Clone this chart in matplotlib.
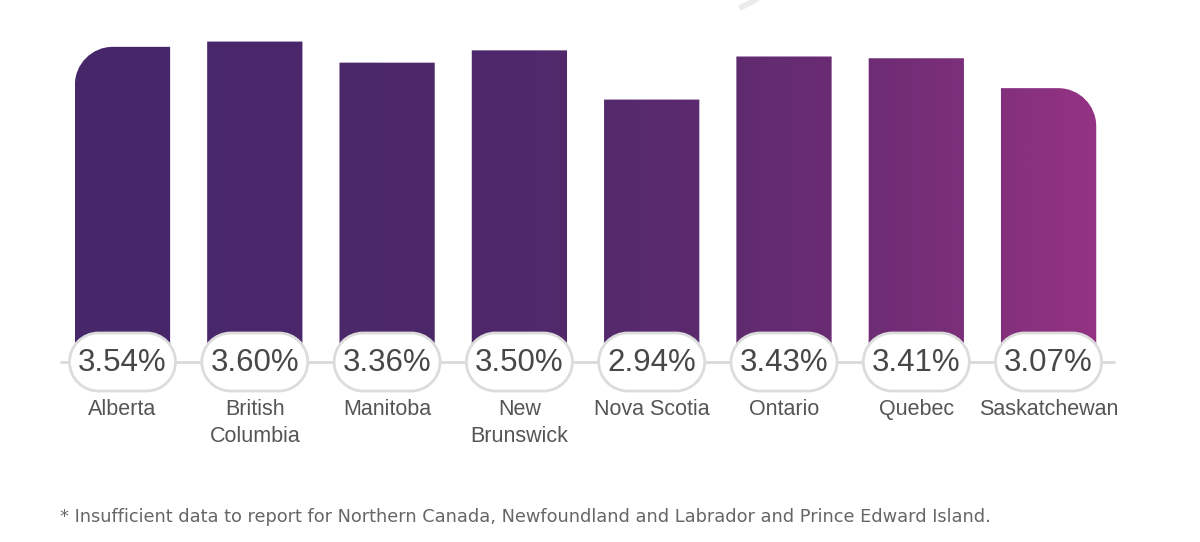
import numpy as np
import matplotlib
matplotlib.use("Agg")
from matplotlib import pyplot as plt
from matplotlib.path import Path
from matplotlib.patches import PathPatch
from matplotlib.colors import LinearSegmentedColormap
from matplotlib.lines import Line2D

# Datos del grafico
provincias = ["Alberta", "British\nColumbia", "Manitoba", "New\nBrunswick",
              "Nova Scotia", "Ontario", "Quebec", "Saskatchewan"]
valores = [3.54, 3.60, 3.36, 3.50, 2.94, 3.43, 3.41, 3.07]
etiquetas = ["3.54%", "3.60%", "3.36%", "3.50%", "2.94%", "3.43%", "3.41%", "3.07%"]
nota = "* Insufficient data to report for Northern Canada, Newfoundland and Labrador and Prince Edward Island."

plt.rcParams["font.family"] = ["Liberation Sans", "DejaVu Sans"]

W, H = 1200, 542
fig = plt.figure(figsize=(W / 100, H / 100), dpi=100)
ax = fig.add_axes([0, 0, 1, 1])
ax.set_axis_off()

# escala: pixeles por unidad en cada eje
px_x = 132.3
px_y = 87.9
xlim = (-122.5 / px_x, (W - 122.5) / px_x)
ylim = (-(H - 358) / px_y, 358 / px_y)
k = 0.5523


def rectangulo_redondeado(x0, y0, w, h, radios):
    """
    Devuelve un Path de rectangulo con esquinas redondeadas (radios en px)
    radios = (sup_izq, sup_der, inf_der, inf_izq)
    """
    x1, y1 = x0 + w, y0 + h
    ti, td, bd, bi = radios
    verts, codes = [], []

    def esquina(cx, cy, r, dx1, dy1, dx2, dy2):
        # punto inicial, curva hasta punto final alrededor de la esquina (cx, cy)
        rx, ry = r / px_x, r / px_y
        p0 = (cx + dx1 * rx, cy + dy1 * ry)
        p3 = (cx + dx2 * rx, cy + dy2 * ry)
        c1 = (p0[0] - dx1 * rx * k, p0[1] - dy1 * ry * k)
        c2 = (p3[0] - dx2 * rx * k, p3[1] - dy2 * ry * k)
        return p0, c1, c2, p3

    # inferior izquierda -> superior izquierda
    p0, c1, c2, p3 = esquina(x0, y0, bi, 1, 0, 0, 1)
    verts += [p0]
    codes += [Path.MOVETO]
    if bi:
        verts += [c1, c2, p3]
        codes += [Path.CURVE4] * 3
    for (cx, cy, r, a) in [(x0, y1, ti, (0, -1, 1, 0)), (x1, y1, td, (-1, 0, 0, -1)),
                           (x1, y0, bd, (0, 1, -1, 0))]:
        p0, c1, c2, p3 = esquina(cx, cy, r, *a)
        verts += [p0]
        codes += [Path.LINETO]
        if r:
            verts += [c1, c2, p3]
            codes += [Path.CURVE4] * 3
    verts += [verts[0]]
    codes += [Path.CLOSEPOLY]
    return Path(verts, codes)


posiciones = np.arange(len(valores))
ancho = 0.72
barras = ax.bar(posiciones, valores, ancho, color="none", edgecolor="none")

# gradiente horizontal morado -> magenta
cmap = LinearSegmentedColormap.from_list("morado", [
    (0.0, "#46276a"), (0.45, "#4f296b"), (0.6, "#5b2a6e"),
    (0.8, "#702d75"), (1.0, "#943383")])

radio = 38  # px
caminos = []
for i, b in enumerate(barras):
    r_izq = radio if i == 0 else 0
    r_der = radio if i == len(barras) - 1 else 0
    caminos.append(rectangulo_redondeado(b.get_x(), 0, b.get_width(), b.get_height(),
                                         (r_izq, r_der, 0, 0)))

compuesto = Path.make_compound_path(*caminos)
x_ini = barras[0].get_x()
x_fin = barras[-1].get_x() + barras[-1].get_width()
grad = np.linspace(0, 1, 512).reshape(1, -1)
img = ax.imshow(grad, cmap=cmap, aspect="auto", extent=[x_ini, x_fin, 0, max(valores) + 0.1],
                zorder=2, interpolation="bilinear")
clip = PathPatch(compuesto, facecolor="none", edgecolor="none", transform=ax.transData)
ax.add_patch(clip)
img.set_clip_path(clip)
ax.set_xlim(*xlim)
ax.set_ylim(*ylim)

# linea base gris
y_linea = -4 / px_y
ax.plot([(60 - 122.5) / px_x, (1115 - 122.5) / px_x], [y_linea, y_linea],
        color="#d9d9d9", lw=2, zorder=1, solid_capstyle="butt")

# pastillas con los porcentajes
pw, ph = 106 / px_x, 58 / px_y
for p, et in zip(posiciones, etiquetas):
    camino = rectangulo_redondeado(p - pw / 2, y_linea - ph / 2, pw, ph, (29, 29, 29, 29))
    ax.add_patch(PathPatch(camino, facecolor="white", edgecolor="#dcdcdc", lw=2, zorder=4))
    ax.text(p, y_linea - 1 / px_y, et, ha="center", va="center", fontsize=22.5,
            color="#474747", zorder=5)

# nombres de provincias
for p, nom in zip(posiciones, provincias):
    ax.text(p, -41 / px_y, nom, ha="center", va="top", fontsize=15.5,
            color="#555555", linespacing=1.4)

# nota al pie
fig.text(60 / W, 1 - 517 / H, nota, ha="left", va="center", fontsize=12.8, color="#666666",
         family=["DejaVu Sans"])

# trazo gris recortado arriba
fig.add_artist(Line2D([742 / W, 755 / W], [1 - 7 / H, 1.0], color="#ebebeb", lw=4,
                      transform=fig.transFigure))

fig.savefig("out.png", dpi=100)
